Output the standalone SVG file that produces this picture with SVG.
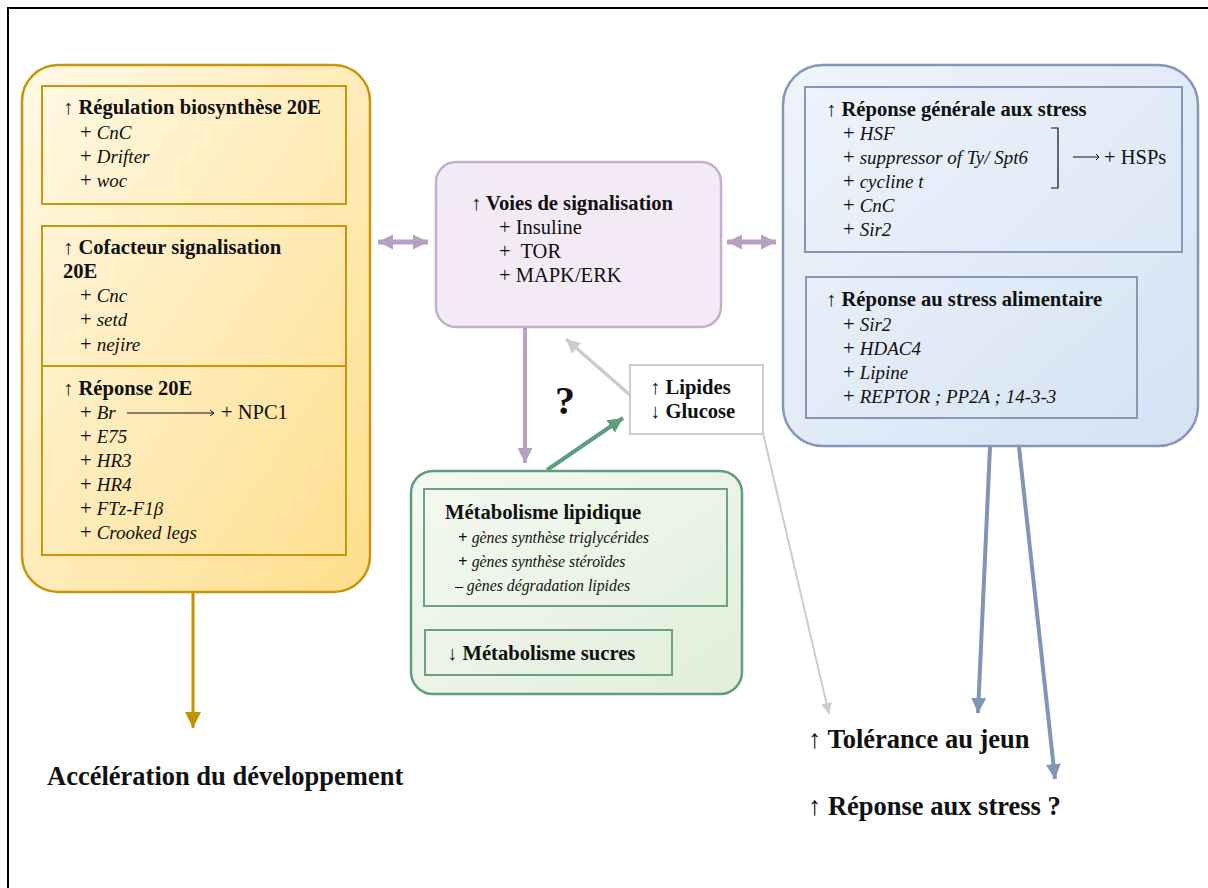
<svg xmlns="http://www.w3.org/2000/svg" width="1208" height="888" viewBox="0 0 1208 888">
<style>
text{font-family:"Liberation Serif","Times New Roman",serif;fill:#111}
.t{font-weight:bold;font-size:20.6px}
.i{font-size:20.5px}
.it{font-style:italic;font-size:19px}
.g{font-size:15.8px;font-style:italic}
.big{font-weight:bold;font-size:26.5px}
.yin{fill:none;stroke:#C8960A;stroke-width:2}
.bin{fill:none;stroke:#8499B6;stroke-width:2}
.gin{fill:none;stroke:#6AA285;stroke-width:2}
</style>
<defs>
<linearGradient id="gy" x1="0" y1="0" x2="1" y2="1"><stop offset="0" stop-color="#FFF9E6"/><stop offset="1" stop-color="#FFDE8C"/></linearGradient>
<linearGradient id="gp" x1="0" y1="0" x2="1" y2="1"><stop offset="0" stop-color="#F2EAF4"/><stop offset="1" stop-color="#F6EAF8"/></linearGradient>
<linearGradient id="gg" x1="0" y1="0" x2="1" y2="1"><stop offset="0" stop-color="#F5F9F1"/><stop offset="1" stop-color="#E1EEDA"/></linearGradient>
<linearGradient id="gb" x1="0" y1="0" x2="1" y2="1"><stop offset="0" stop-color="#F0F4FB"/><stop offset="1" stop-color="#D4E2F4"/></linearGradient>
<marker id="mY" viewBox="0 0 10 10" refX="10" refY="5" markerUnits="userSpaceOnUse" markerWidth="16" markerHeight="16" orient="auto"><path d="M0,0 L10,5 L0,10 z" fill="#C39200"/></marker>
<marker id="mP" viewBox="0 0 10 10" refX="10" refY="5" markerUnits="userSpaceOnUse" markerWidth="15" markerHeight="16" orient="auto-start-reverse"><path d="M0,0 L10,5 L0,10 z" fill="#B9A0C2"/></marker>
<marker id="mGr" viewBox="0 0 10 10" refX="10" refY="5" markerUnits="userSpaceOnUse" markerWidth="14" markerHeight="14" orient="auto"><path d="M0,0 L10,5 L0,10 z" fill="#CCCCCC"/></marker>
<marker id="mGr2" viewBox="0 0 10 10" refX="10" refY="5" markerUnits="userSpaceOnUse" markerWidth="11" markerHeight="11" orient="auto"><path d="M0,0 L10,5 L0,10 z" fill="#CCCCCC"/></marker>
<marker id="mG" viewBox="0 0 10 10" refX="10" refY="5" markerUnits="userSpaceOnUse" markerWidth="15" markerHeight="15" orient="auto"><path d="M0,0 L10,5 L0,10 z" fill="#5E9E80"/></marker>
<marker id="mB" viewBox="0 0 10 10" refX="10" refY="5" markerUnits="userSpaceOnUse" markerWidth="15" markerHeight="15" orient="auto"><path d="M0,0 L10,5 L0,10 z" fill="#7F96B5"/></marker>
</defs>
<rect x="0" y="0" width="1208" height="888" fill="#fff"/>
<rect x="8" y="8" width="1230" height="910" fill="none" stroke="#000" stroke-width="2"/>

<g id="n-yellow">
<rect x="22" y="65" width="348" height="527" rx="36" fill="url(#gy)" stroke="#C8960A" stroke-width="2.5"/>
<rect class="yin" x="42" y="86" width="304" height="118"/>
<rect class="yin" x="42" y="226" width="304" height="140"/>
<rect class="yin" x="42" y="366" width="304" height="189"/>
<text class="t" x="63" y="114">↑ Régulation biosynthèse 20E</text>
<text class="i" x="80" y="139">+ <tspan class="it">CnC</tspan></text>
<text class="i" x="80" y="163">+ <tspan class="it">Drifter</tspan></text>
<text class="i" x="80" y="187">+ <tspan class="it">woc</tspan></text>
<text class="t" x="63" y="254">↑ Cofacteur signalisation</text>
<text class="t" x="63" y="278">20E</text>
<text class="i" x="80" y="302">+ <tspan class="it">Cnc</tspan></text>
<text class="i" x="80" y="326">+ <tspan class="it">setd</tspan></text>
<text class="i" x="80" y="351">+ <tspan class="it">nejire</tspan></text>
<text class="t" x="63" y="395">↑ Réponse 20E</text>
<text class="i" x="80" y="419">+ <tspan class="it">Br</tspan></text>
<path d="M127,413 H214 M210,410 L214,413 L210,416" fill="none" stroke="#111" stroke-width="1"/>
<text class="i" x="221" y="419">+ NPC1</text>
<text class="i" x="80" y="443">+ <tspan class="it">E75</tspan></text>
<text class="i" x="80" y="467">+ <tspan class="it">HR3</tspan></text>
<text class="i" x="80" y="491">+ <tspan class="it">HR4</tspan></text>
<text class="i" x="80" y="515">+ <tspan class="it">FTz-F1β</tspan></text>
<text class="i" x="80" y="539">+ <tspan class="it">Crooked legs</tspan></text>
</g>

<g id="n-voies">
<rect x="436" y="162" width="285" height="165" rx="20" fill="url(#gp)" stroke="#C4AECB" stroke-width="2.5"/>
<text class="t" x="471" y="210">↑ Voies de signalisation</text>
<text class="i" x="499" y="234">+ Insuline</text>
<text class="i" x="499" y="258">+&#160; TOR</text>
<text class="i" x="499" y="282">+ MAPK/ERK</text>
</g>

<g id="n-lipides">
<rect x="630" y="365" width="133" height="69" fill="#fff" stroke="#CCCCCC" stroke-width="2"/>
<text class="t" x="650" y="394">↑ Lipides</text>
<text class="t" x="650" y="418">↓ Glucose</text>
</g>

<g id="n-question">
<text x="555" y="414" style="font-weight:bold;font-size:40px">?</text>
</g>

<g id="n-green">
<rect x="411" y="471" width="331" height="223" rx="22" fill="url(#gg)" stroke="#5E9E80" stroke-width="2.5"/>
<rect class="gin" x="424" y="489" width="303" height="117"/>
<rect class="gin" x="425" y="630" width="247" height="45"/>
<text class="t" x="445" y="519">Métabolisme lipidique</text>
<text class="g" x="458" y="543"><tspan style="font-style:normal;font-weight:bold;font-size:17px">+</tspan> gènes synthèse triglycérides</text>
<text class="g" x="458" y="567"><tspan style="font-style:normal;font-weight:bold;font-size:17px">+</tspan> gènes synthèse stéroïdes</text>
<text class="g" x="455" y="591">– gènes dégradation lipides</text>
<text class="t" x="447" y="660">↓ Métabolisme sucres</text>
</g>

<g id="n-blue">
<rect x="783" y="65" width="415" height="381" rx="40" fill="url(#gb)" stroke="#8499B6" stroke-width="2.5"/>
<rect class="bin" x="805" y="87" width="377" height="165"/>
<rect class="bin" x="806" y="277" width="331" height="141"/>
<text class="t" x="826" y="116">↑ Réponse générale aux stress</text>
<text class="i" x="843" y="140">+ <tspan class="it">HSF</tspan></text>
<text class="i" x="843" y="164">+ <tspan class="it">suppressor of Ty/ Spt6</tspan></text>
<text class="i" x="843" y="188">+ <tspan class="it">cycline t</tspan></text>
<text class="i" x="843" y="212">+ <tspan class="it">CnC</tspan></text>
<text class="i" x="843" y="236">+ <tspan class="it">Sir2</tspan></text>
<path d="M1051,128 H1058 V188 H1051" fill="none" stroke="#111" stroke-width="1.2"/>
<path d="M1073,157 H1099 M1096,154 L1099,157 L1096,160" fill="none" stroke="#111" stroke-width="1"/>
<text class="i" x="1104" y="164">+ HSPs</text>
<text class="t" x="826" y="306">↑ Réponse au stress alimentaire</text>
<text class="i" x="843" y="331">+ <tspan class="it">Sir2</tspan></text>
<text class="i" x="843" y="355">+ <tspan class="it">HDAC4</tspan></text>
<text class="i" x="843" y="379">+ <tspan class="it">Lipine</tspan></text>
<text class="i" x="843" y="403">+ <tspan class="it">REPTOR ; PP2A ; 14-3-3</tspan></text>
</g>

<g id="n-dev">
<text class="big" x="47" y="785">Accélération du développement</text>
</g>
<g id="n-tolerance">
<text class="big" x="808" y="748">↑ Tolérance au jeun</text>
</g>
<g id="n-stress">
<text class="big" x="808" y="815">↑ Réponse aux stress ?</text>
</g>

<g id="connectors" fill="none">
<line x1="193" y1="593" x2="193" y2="728" stroke="#C39200" stroke-width="3" marker-end="url(#mY)"/>
<line x1="378" y1="242" x2="428" y2="242" stroke="#B9A0C2" stroke-width="5" marker-start="url(#mP)" marker-end="url(#mP)"/>
<line x1="727" y1="242" x2="776" y2="242" stroke="#B9A0C2" stroke-width="5" marker-start="url(#mP)" marker-end="url(#mP)"/>
<line x1="525" y1="328" x2="525" y2="463" stroke="#B9A0C2" stroke-width="4" marker-end="url(#mP)"/>
<line x1="630" y1="395" x2="566" y2="339" stroke="#CCCCCC" stroke-width="3.5" marker-end="url(#mGr)"/>
<line x1="547" y1="470" x2="623" y2="418" stroke="#5E9E80" stroke-width="4" marker-end="url(#mG)"/>
<line x1="763" y1="433" x2="829" y2="714" stroke="#CCCCCC" stroke-width="2" marker-end="url(#mGr2)"/>
<line x1="990" y1="447" x2="978" y2="713" stroke="#7F96B5" stroke-width="4" marker-end="url(#mB)"/>
<line x1="1019" y1="447" x2="1055" y2="779" stroke="#7F96B5" stroke-width="4" marker-end="url(#mB)"/>
</g>
</svg>
